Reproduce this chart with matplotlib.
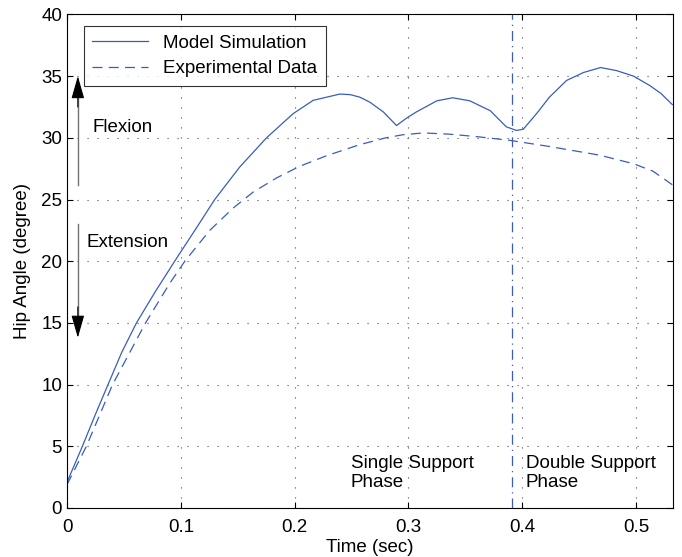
import matplotlib
matplotlib.use('Agg')
import matplotlib.pyplot as plt

plt.rcParams['font.family'] = ['Liberation Sans', 'DejaVu Sans']

# Model simulation (solid)
t_model = [0.000, 0.007, 0.0135, 0.025, 0.036, 0.048, 0.061, 0.078, 0.0946, 0.1137,
           0.1298, 0.1518, 0.1753, 0.1987, 0.2163, 0.2398, 0.249, 0.2573, 0.266, 0.278,
           0.2896, 0.2984, 0.307, 0.325, 0.339, 0.354, 0.372, 0.386, 0.395, 0.401,
           0.413, 0.424, 0.439, 0.454, 0.469, 0.483, 0.498, 0.512, 0.522, 0.532]
v_model = [2.1, 3.6, 5.0, 7.6, 10.0, 12.6, 15.0, 17.6, 20.0, 22.7,
           25.0, 27.64, 30.0, 31.96, 33.04, 33.55, 33.5, 33.3, 32.9, 32.1,
           31.0, 31.6, 32.1, 33.0, 33.25, 33.0, 32.2, 30.9, 30.6, 30.7,
           32.0, 33.3, 34.65, 35.3, 35.7, 35.45, 35.0, 34.25, 33.6, 32.7]

# Experimental data (dashed)
t_exp = [0.000, 0.017, 0.040, 0.069, 0.0902, 0.1035, 0.1254, 0.1459, 0.1635,
         0.1841, 0.2046, 0.228, 0.2573, 0.280, 0.295, 0.313, 0.336, 0.360, 0.389,
         0.424, 0.468, 0.498, 0.515, 0.532]
v_exp = [1.9, 5.0, 10.0, 15.0, 18.2, 20.0, 22.5, 24.3, 25.6,
         26.75, 27.7, 28.55, 29.45, 30.0, 30.25, 30.4, 30.3, 30.1, 29.8,
         29.3, 28.6, 27.9, 27.3, 26.2]

phase_switch = 0.391
blue = '#3a5cbc'
fs = 13.5

fig = plt.figure(figsize=(6.82, 5.57), dpi=100)
ax = fig.add_axes([0.0983, 0.088, 0.8885, 0.886])

ax.plot(t_model, v_model, color=blue, lw=0.9, label='Model Simulation')
ax.plot(t_exp, v_exp, color=blue, lw=0.9, linestyle=(0, (8, 5)), label='Experimental Data')
ax.axvline(phase_switch, color=blue, lw=0.9, linestyle=(0, (8, 4, 1, 4)))

ax.set_xlim(0, 0.5326)
ax.set_ylim(0, 40)
ax.set_xticks([0, 0.1, 0.2, 0.3, 0.4, 0.5])
ax.set_xticklabels(['0', '0.1', '0.2', '0.3', '0.4', '0.5'])
ax.set_yticks(range(0, 41, 5))
ax.tick_params(direction='in', top=True, right=True, labelsize=fs, length=4)
ax.tick_params(axis='x', pad=8)
ax.grid(True, color='0.3', linestyle=(0, (1, 8)), lw=0.8)
ax.set_xlabel('Time (sec)', fontsize=fs, labelpad=2)
ax.set_ylabel('Hip Angle (degree)', fontsize=fs, labelpad=7.5)

# flexion / extension arrows: gray shaft, black head
ax.plot([0.0095, 0.0095], [26.2, 33.5], color='0.45', lw=1.0)
ax.plot([0.0095, 0.0095], [23.0, 15.3], color='0.45', lw=1.0)
ax.annotate('', xy=(0.0095, 35.0), xytext=(0.0095, 32.5),
            arrowprops=dict(arrowstyle='-|>,head_length=1.4,head_width=0.4',
                            color='black', lw=0.8, shrinkA=0, shrinkB=0))
ax.annotate('', xy=(0.0095, 13.8), xytext=(0.0095, 16.3),
            arrowprops=dict(arrowstyle='-|>,head_length=1.4,head_width=0.4',
                            color='black', lw=0.8, shrinkA=0, shrinkB=0))
ax.text(0.0225, 30.8, 'Flexion', fontsize=fs, va='center')
ax.text(0.017, 21.5, 'Extension', fontsize=fs, va='center')

ax.text(0.2494, 2.85, 'Single Support\nPhase', fontsize=fs, va='center', linespacing=1.15)
ax.text(0.403, 2.85, 'Double Support\nPhase', fontsize=fs, va='center', linespacing=1.15)

leg = ax.legend(loc='upper left', fontsize=fs, frameon=True, fancybox=False,
                edgecolor='black', borderaxespad=0.5, handlelength=3.0,
                borderpad=0.45, labelspacing=0.45,
                bbox_to_anchor=(0.012, 0.995))
leg.get_frame().set_linewidth(0.8)

fig.savefig('out.png', dpi=100)
